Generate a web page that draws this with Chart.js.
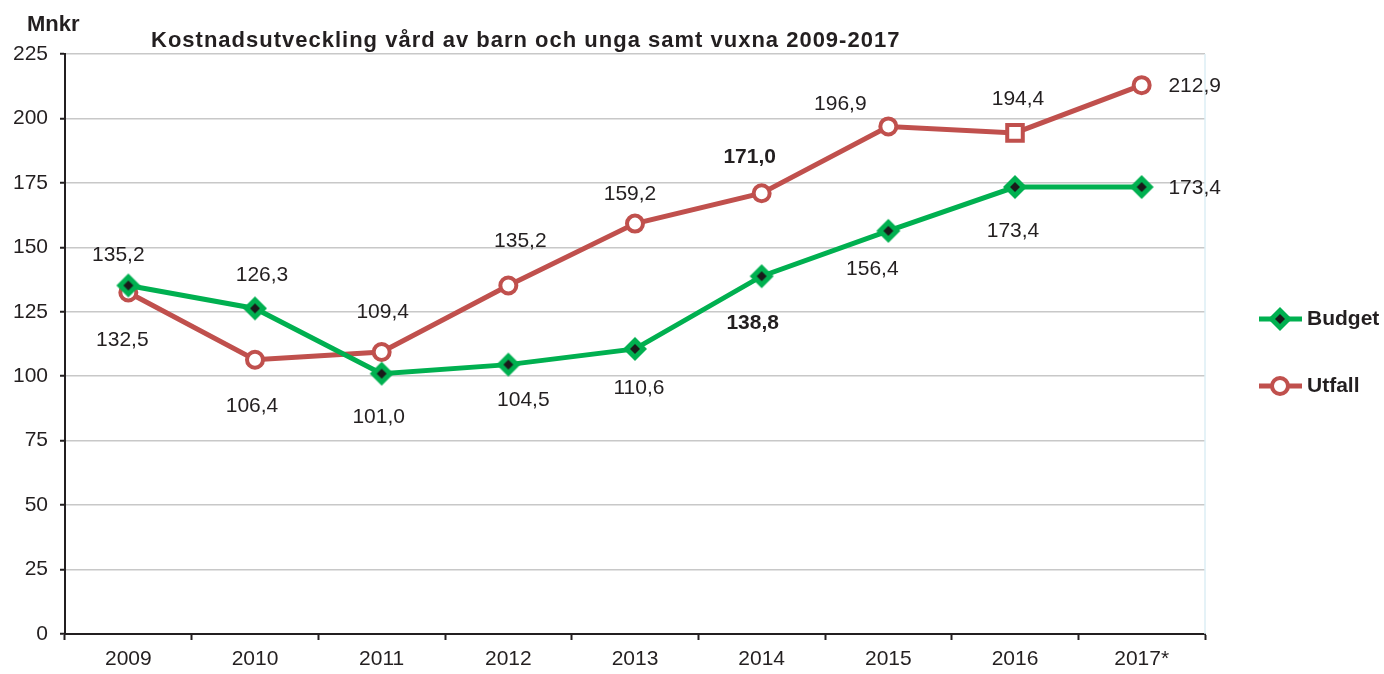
<!DOCTYPE html>
<html>
<head>
<meta charset="utf-8">
<script src="https://cdn.jsdelivr.net/npm/chart.js@4/dist/chart.umd.min.js"></script>
<style>
html,body{margin:0;padding:0;background:#fff;}
#wrap{width:1384px;height:674px;}
</style>
</head>
<body>
<div id="wrap"><canvas id="c" width="1384" height="674"></canvas></div>
<script>
// ---- data ----
const categories = ['2009','2010','2011','2012','2013','2014','2015','2016','2017*'];
const budget = [135.2, 126.3, 101.0, 104.5, 110.6, 138.8, 156.4, 173.4, 173.4];
const utfall = [132.5, 106.4, 109.4, 135.2, 159.2, 171.0, 196.9, 194.4, 212.9];
const seriesNames = ['Budget', 'Utfall'];
const titleText = 'Kostnadsutveckling vård av barn och unga samt vuxna 2009-2017';
const unitText = 'Mnkr';

// ---- styles ----
const GREEN = '#00b050';
const RED = '#c0504d';
const TEXT = '#231f20';
const FONT = '"Liberation Sans", Arial, sans-serif';

// label placement offsets (pixels, relative to point)
const budgetLabelOffsets = [[-10,-30],[7,-33],[-3,44],[15,36],[4,39],[-9,47],[-16,38],[-2,44],[53,1]];
const utfallLabelOffsets = [[-6,48],[-3,46],[1,-40],[12,-44],[-5,-29],[-12,-36],[-48,-22],[3,-34],[53,1]];
const boldIndex = 5;

function makeDiamond(){
  const c = document.createElement('canvas');
  c.width = 28; c.height = 28;
  const g = c.getContext('2d');
  g.fillStyle = GREEN;
  g.beginPath(); g.moveTo(14,2); g.lineTo(26,14); g.lineTo(14,26); g.lineTo(2,14); g.closePath(); g.fill();
  g.fillStyle = '#1a1a1a';
  g.beginPath(); g.moveTo(14,9); g.lineTo(19,14); g.lineTo(14,19); g.lineTo(9,14); g.closePath(); g.fill();
  return c;
}
const diamond = makeDiamond();

const fmt = v => v.toFixed(1).replace('.', ',');

const decorPlugin = {
  id: 'decor',
  beforeDatasetsDraw(chart){
    const {ctx, chartArea} = chart;
    ctx.save();
    ctx.strokeStyle = '#dceef4';
    ctx.lineWidth = 1.5;
    ctx.beginPath();
    ctx.moveTo(chartArea.right, chartArea.top);
    ctx.lineTo(chartArea.right, chartArea.bottom);
    ctx.stroke();
    ctx.restore();
  },
  afterDatasetsDraw(chart){
    const {ctx} = chart;
    ctx.save();
    ctx.fillStyle = TEXT;
    ctx.textAlign = 'center';
    ctx.textBaseline = 'middle';
    const sets = [[0, budget, budgetLabelOffsets],[1, utfall, utfallLabelOffsets]];
    sets.forEach(([di, vals, offs]) => {
      const meta = chart.getDatasetMeta(di);
      meta.data.forEach((pt, i) => {
        ctx.font = (i === boldIndex ? 'bold ' : '') + '21px ' + FONT;
        ctx.fillText(fmt(vals[i]), pt.x + offs[i][0], pt.y + offs[i][1]);
      });
    });
    // title + unit
    ctx.textAlign = 'left';
    ctx.textBaseline = 'alphabetic';
    ctx.font = 'bold 22px ' + FONT;
    ctx.fillText(unitText, 27, 31);
    ctx.letterSpacing = '1px';
    ctx.fillText(titleText, 151, 47);
    ctx.letterSpacing = '0px';
    // legend
    ctx.textBaseline = 'middle';
    const legendY = [319, 386];
    const colors = [GREEN, RED];
    legendY.forEach((y, k) => {
      ctx.strokeStyle = colors[k];
      ctx.lineWidth = 5;
      ctx.beginPath(); ctx.moveTo(1259, y); ctx.lineTo(1302, y); ctx.stroke();
      if (k === 0) {
        ctx.drawImage(diamond, 1280 - 14, y - 14);
      } else {
        ctx.fillStyle = '#fff';
        ctx.lineWidth = 4;
        ctx.beginPath(); ctx.arc(1280, y, 8, 0, Math.PI*2); ctx.fill(); ctx.stroke();
      }
      ctx.fillStyle = TEXT;
      ctx.font = 'bold 21px ' + FONT;
      ctx.fillText(seriesNames[k], 1307, y);
    });
    ctx.restore();
  }
};

new Chart(document.getElementById('c'), {
  type: 'line',
  data: {
    labels: categories,
    datasets: [
      {
        label: seriesNames[0],
        data: budget,
        borderColor: GREEN,
        backgroundColor: GREEN,
        borderWidth: 5,
        pointStyle: diamond,
        pointRadius: 12,
        tension: 0
      },
      {
        label: seriesNames[1],
        data: utfall,
        borderColor: RED,
        backgroundColor: '#ffffff',
        borderWidth: 5,
        pointStyle: ['circle','circle','circle','circle','circle','circle','circle','rect','circle'],
        pointRadius: [8,8,8,8,8,8,8,11,8],
        pointBorderWidth: 4,
        pointBorderColor: RED,
        pointBackgroundColor: '#ffffff',
        tension: 0
      }
    ]
  },
  options: {
    responsive: false,
    animation: false,
    devicePixelRatio: 1,
    layout: { padding: { top: 54, right: 179, left: 0, bottom: 0 } },
    plugins: { legend: { display: false }, title: { display: false }, tooltip: { enabled: false } },
    scales: {
      x: {
        offset: true,
        afterFit(s){ s.height = 40; },
        border: { color: '#231f20', width: 2 },
        grid: { display: true, drawOnChartArea: false, drawTicks: true, tickLength: 6, tickColor: '#231f20', tickWidth: 2, offset: true },
        ticks: { color: TEXT, font: { family: FONT, size: 21 }, padding: 7, maxRotation: 0 }
      },
      y: {
        min: 0, max: 225,
        afterFit(s){ s.width = 65; },
        border: { color: '#231f20', width: 2 },
        grid: { color: '#c8c8c8', lineWidth: 1.5, tickLength: 5, tickColor: '#231f20', tickWidth: 2 },
        ticks: { stepSize: 25, color: TEXT, font: { family: FONT, size: 21 }, padding: 12 }
      }
    }
  },
  plugins: [decorPlugin]
});
</script>
</body>
</html>
